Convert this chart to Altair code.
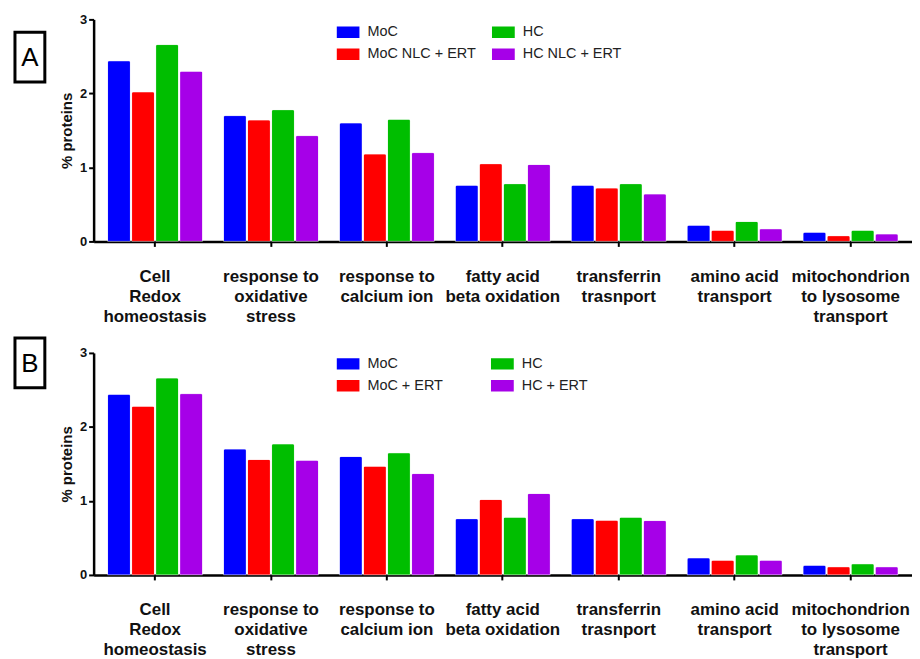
import altair as alt
import pandas as pd

categories = [
    "Cell\nRedox\nhomeostasis",
    "response to\noxidative\nstress",
    "response to\ncalcium ion",
    "fatty acid\nbeta oxidation",
    "transferrin\ntrasnport",
    "amino acid\ntransport",
    "mitochondrion\nto lysosome\ntransport",
]

groups_a = ["MoC", "MoC NLC + ERT", "HC", "HC NLC + ERT"]
groups_b = ["MoC", "MoC + ERT", "HC", "HC + ERT"]
colors = ["#0000FF", "#FF0000", "#00BE00", "#A600E8"]

a_moc = [2.44, 1.70, 1.60, 0.76, 0.76, 0.22, 0.125]
a_moc_nlc_ert = [2.02, 1.64, 1.18, 1.05, 0.72, 0.15, 0.077]
a_hc = [2.66, 1.78, 1.65, 0.78, 0.78, 0.27, 0.15]
a_hc_nlc_ert = [2.30, 1.43, 1.20, 1.04, 0.64, 0.17, 0.10]

b_moc = [2.44, 1.70, 1.60, 0.76, 0.76, 0.23, 0.13]
b_moc_ert = [2.28, 1.56, 1.47, 1.02, 0.74, 0.20, 0.11]
b_hc = [2.66, 1.77, 1.65, 0.78, 0.78, 0.27, 0.15]
b_hc_ert = [2.45, 1.55, 1.37, 1.10, 0.735, 0.20, 0.11]

y_ticks = [0, 1, 2, 3]

FONT = "Liberation Sans"
W, H = 822, 223


def panel(letter, groups, series, legend_y, col_pad, box_y):
    rows = []
    for g, vals in zip(groups, series):
        for c, v in zip(categories, vals):
            rows.append({"category": c, "group": g, "value": v})
    df = pd.DataFrame(rows)

    bars = alt.Chart(df).mark_bar(
        cornerRadiusTopLeft=2, cornerRadiusTopRight=2,
        stroke="white", strokeWidth=0.6, strokeOpacity=0.6,
    ).encode(
        x=alt.X(
            "category:N", sort=categories, title=None,
            scale=alt.Scale(paddingInner=0.18, paddingOuter=0.12),
            axis=alt.Axis(
                labelExpr="split(datum.label, '\\n')",
                labelAngle=0, labelAlign="center", labelBaseline="top",
                labelFontSize=17, labelFontWeight="bold", labelColor="#111",
                labelLineHeight=20, labelPadding=22, labelLimit=0,
                tickSize=5, tickWidth=2, tickColor="black",
                domainColor="black", domainWidth=2.5,
            ),
        ),
        xOffset=alt.XOffset("group:N", sort=groups,
                            scale=alt.Scale(domain=groups, paddingInner=0.05)),
        y=alt.Y(
            "value:Q", title="% proteins",
            scale=alt.Scale(domain=[0, 3], nice=False),
            axis=alt.Axis(
                values=y_ticks, grid=False, format="d",
                labelFontSize=13, labelFontWeight="bold", labelColor="#111",
                labelPadding=2,
                tickSize=5, tickWidth=2, tickColor="black",
                domainColor="black", domainWidth=2.5,
                titleFontSize=15, titleFontWeight="bold", titleColor="#111",
                titlePadding=5,
            ),
        ),
        color=alt.Color(
            "group:N",
            scale=alt.Scale(domain=groups, range=colors),
            legend=alt.Legend(
                title=None, orient="none", legendX=244, legendY=legend_y,
                columns=2, columnPadding=col_pad, rowPadding=0,
                symbolType="M-1,-0.5H1V0.5H-1Z", symbolSize=529,
                symbolStrokeWidth=0, symbolOpacity=1,
                clipHeight=22,
                labelFontSize=14.5, labelColor="#222", labelOffset=8,
                labelLimit=0,
            ),
        ),
    )

    letter_df = pd.DataFrame({"letter": [letter]})
    box = alt.Chart(letter_df).mark_rect(
        fill="white", stroke="black", strokeWidth=3
    ).encode(
        x=alt.value(-79), x2=alt.value(-49),
        y=alt.value(box_y), y2=alt.value(box_y + 50),
    )
    txt = alt.Chart(letter_df).mark_text(
        fontSize=26, font=FONT, color="black", baseline="middle", align="center"
    ).encode(
        text="letter:N", x=alt.value(-64), y=alt.value(box_y + 26),
    )
    return alt.layer(bars, box, txt).properties(width=W, height=H)


chart_a = panel("A", groups_a, [a_moc, a_moc_nlc_ert, a_hc, a_hc_nlc_ert], 2, 16, 13)
chart_b = panel("B", groups_b, [b_moc, b_moc_ert, b_hc, b_hc_ert], 0, 48, -15)

chart = alt.vconcat(chart_a, chart_b, spacing=112, bounds="flush").resolve_scale(
    color="independent", xOffset="independent"
).resolve_legend(color="independent").properties(
    padding={"left": 5, "top": 4, "right": 0, "bottom": 0},
    background="white",
).configure(font=FONT).configure_view(stroke=None)

chart.save("out.html", embed_options={"renderer": "svg", "actions": False})
